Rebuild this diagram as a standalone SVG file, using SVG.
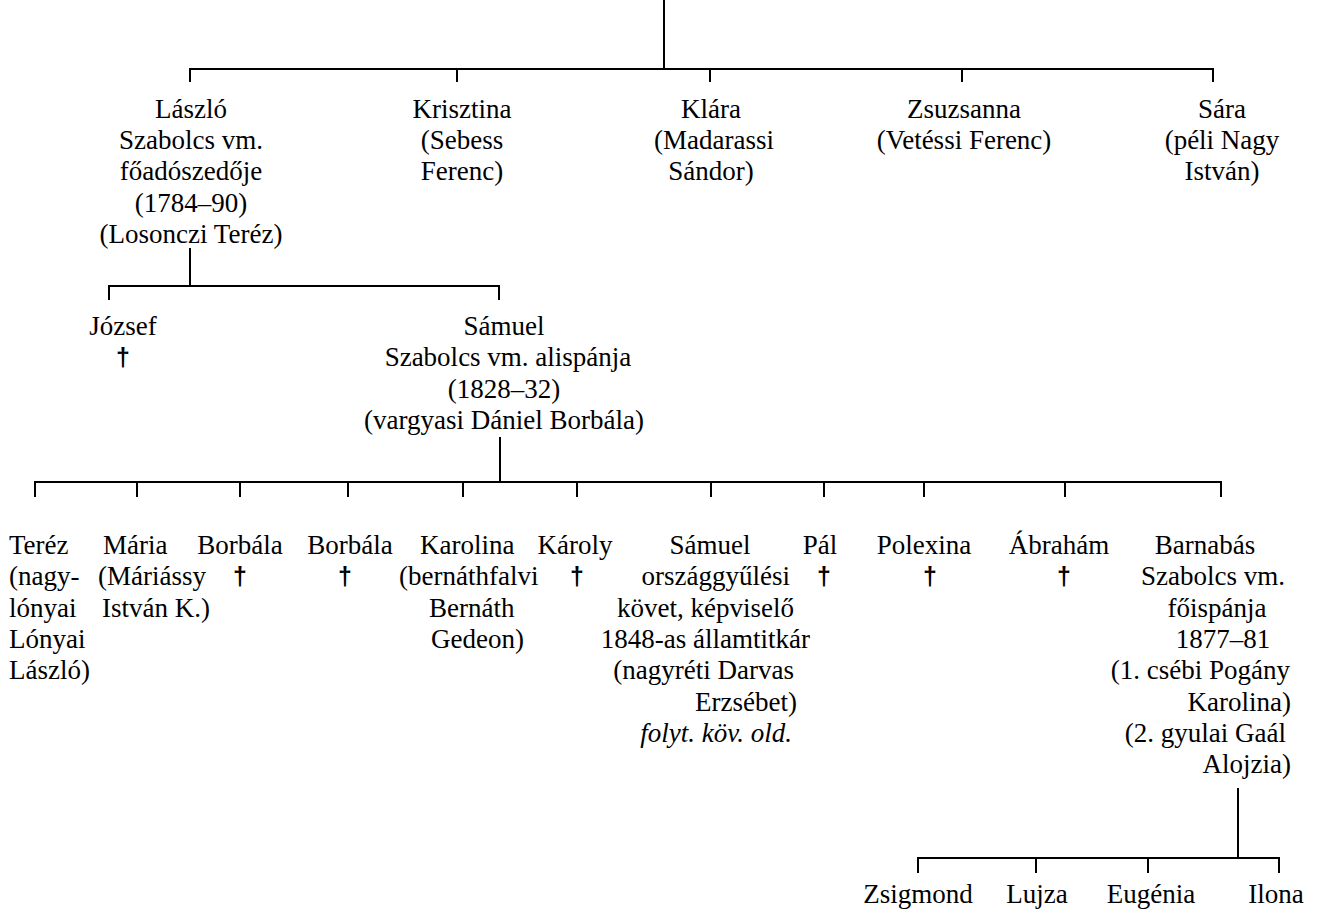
<svg xmlns="http://www.w3.org/2000/svg" width="1317" height="913" viewBox="0 0 1317 913">
<style>
.t{font-family:"Liberation Serif","Times New Roman",serif;font-size:27px;fill:#000}
.m{text-anchor:middle}
.e{text-anchor:end}
.i{font-style:italic}
.d{font-family:"Liberation Sans",Arial,sans-serif;font-weight:bold;font-size:25px;text-anchor:middle;fill:#000}
.c{fill:none;stroke:#000;stroke-width:2}
</style>
<rect width="1317" height="913" fill="#fff"/>
<g id="connectors">
<path class="c" d="M664,0V69M190,82V69H1213V82M457,69V82M710,69V82M962,69V82"/>
<path class="c" d="M190,248V286M109,300V286H499V300"/>
<path class="c" d="M500,437V482M35,497V482H1221V497M137,482V497M240,482V497M348,482V497M463,482V497M577,482V497M711,482V497M824,482V497M924,482V497M1065,482V497"/>
<path class="c" d="M1238,788V858M918,873V858H1279V873M1036,858V873M1148,858V873"/>
</g>
<g id="laszlo" class="t m">
<text x="191" y="118">László</text>
<text x="191" y="149">Szabolcs vm.</text>
<text x="191" y="180">főadószedője</text>
<text x="191" y="212">(1784–90)</text>
<text x="191" y="243">(Losonczi Teréz)</text>
</g>
<g id="krisztina" class="t m">
<text x="462" y="118">Krisztina</text>
<text x="462" y="149">(Sebess</text>
<text x="462" y="180">Ferenc)</text>
</g>
<g id="klara" class="t m">
<text x="711" y="118">Klára</text>
<text x="714" y="149">(Madarassi</text>
<text x="711" y="180">Sándor)</text>
</g>
<g id="zsuzsanna" class="t m">
<text x="964" y="118">Zsuzsanna</text>
<text x="964" y="149">(Vetéssi Ferenc)</text>
</g>
<g id="sara" class="t m">
<text x="1222" y="118">Sára</text>
<text x="1222" y="149">(péli Nagy</text>
<text x="1222" y="180">István)</text>
</g>
<g id="jozsef">
<text class="t m" x="123" y="335">József</text>
<text class="d" x="123" y="366">†</text>
</g>
<g id="samuel1" class="t m">
<text x="504" y="335">Sámuel</text>
<text x="508" y="366">Szabolcs vm. alispánja</text>
<text x="504" y="398">(1828–32)</text>
<text x="504" y="429">(vargyasi Dániel Borbála)</text>
</g>
<g id="terez" class="t">
<text x="9" y="554">Teréz</text>
<text x="9" y="585">(nagy-</text>
<text x="9" y="617">lónyai</text>
<text x="9" y="648">Lónyai</text>
<text x="9" y="679">László)</text>
</g>
<g id="maria" class="t">
<text x="103" y="554">Mária</text>
<text x="98" y="585">(Máriássy</text>
<text x="102" y="617">István K.)</text>
</g>
<g id="borbala1">
<text class="t m" x="240" y="554">Borbála</text>
<text class="d" x="240" y="585">†</text>
</g>
<g id="borbala2">
<text class="t m" x="350" y="554">Borbála</text>
<text class="d" x="345" y="585">†</text>
</g>
<g id="karolina" class="t">
<text x="420" y="554">Karolina</text>
<text x="399" y="585">(bernáthfalvi</text>
<text x="429" y="617">Bernáth</text>
<text x="431" y="648">Gedeon)</text>
</g>
<g id="karoly">
<text class="t m" x="575" y="554">Károly</text>
<text class="d" x="577" y="585">†</text>
</g>
<g id="samuel2" class="t">
<text class="m" x="710" y="554">Sámuel</text>
<text class="e" x="790" y="585">országgyűlési</text>
<text class="e" x="794" y="617">követ, képviselő</text>
<text class="e" x="810" y="648">1848-as államtitkár</text>
<text class="e" x="794" y="679">(nagyréti Darvas</text>
<text class="e" x="797" y="711">Erzsébet)</text>
<text class="e i" x="792" y="742">folyt. köv. old.</text>
</g>
<g id="pal">
<text class="t m" x="820" y="554">Pál</text>
<text class="d" x="824" y="585">†</text>
</g>
<g id="polexina">
<text class="t m" x="924" y="554">Polexina</text>
<text class="d" x="930" y="585">†</text>
</g>
<g id="abraham">
<text class="t m" x="1059" y="554">Ábrahám</text>
<text class="d" x="1064" y="585">†</text>
</g>
<g id="barnabas" class="t">
<text class="m" x="1205" y="554">Barnabás</text>
<text class="e" x="1285" y="585">Szabolcs vm.</text>
<text class="m" x="1217" y="617">főispánja</text>
<text class="m" x="1223" y="648">1877–81</text>
<text class="e" x="1290" y="679">(1. csébi Pogány</text>
<text class="e" x="1291" y="711">Karolina)</text>
<text class="e" x="1286" y="742">(2. gyulai Gaál</text>
<text class="e" x="1291" y="773">Alojzia)</text>
</g>
<g id="zsigmond"><text class="t m" x="918" y="903">Zsigmond</text></g>
<g id="lujza"><text class="t m" x="1037" y="903">Lujza</text></g>
<g id="eugenia"><text class="t m" x="1151" y="903">Eugénia</text></g>
<g id="ilona"><text class="t m" x="1276" y="903">Ilona</text></g>
</svg>
